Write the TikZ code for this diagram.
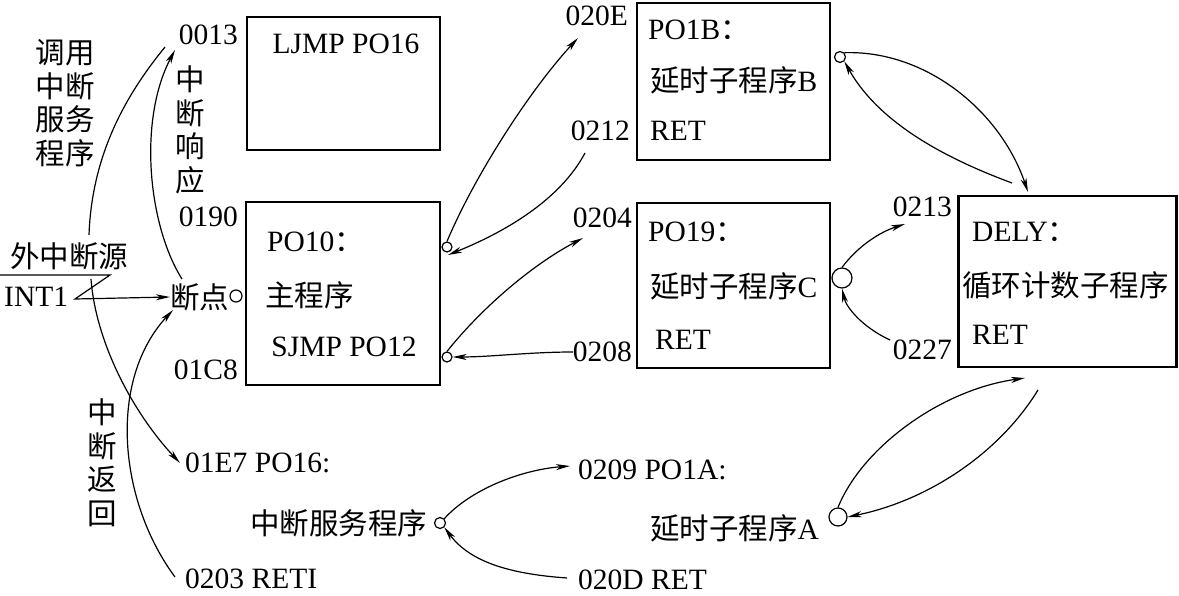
\documentclass[tikz,border=0pt]{standalone}
\usepackage{fontspec}
\setmainfont{Liberation Serif}
\newfontfamily\cjk[Scale=1.0]{Noto Sans CJK SC}
\usetikzlibrary{arrows.meta}
\begin{document}
\begin{tikzpicture}[x=1pt,y=-1pt,
  box/.style={draw,line width=2.8pt,rectangle,inner sep=0pt},
  lbl/.style={inner sep=0pt,font=\fontsize{29.5}{33.5}\selectfont},
  conn/.style={line width=1.2pt,-{Stealth[length=14pt,width=6pt,inset=4pt]}},
  plain/.style={line width=1.2pt},
  dot/.style={draw,circle,line width=1.2pt,inner sep=0pt,fill=white}]
\useasboundingbox (0,0) rectangle (1179,596);

% boxes
\node[box,minimum width=193pt,minimum height=133pt] (b1) at (343.5,83.5) {};
\node[box,minimum width=194pt,minimum height=183pt] (b2) at (343,293.5) {};
\node[box,minimum width=193pt,minimum height=157pt] (b3) at (733.5,81.5) {};
\node[box,minimum width=193pt,minimum height=165pt] (b4) at (733.5,285.5) {};
\node[box,minimum width=218pt,minimum height=171pt] (b5) at (1067.5,281.5) {};

% labels left
\node[lbl,anchor=east] (l0013) at (238,35) {0013};
\node[lbl] (ljmp) at (346,44) {LJMP PO16};
\node[lbl,align=center] (call) at (65,103) {{\cjk 调用}\\{\cjk 中断}\\{\cjk 服务}\\{\cjk 程序}};
\node[lbl,align=center] (resp) at (190,130) {{\cjk 中}\\{\cjk 断}\\{\cjk 响}\\{\cjk 应}};
\node[lbl,anchor=east] (l0190) at (238,217) {0190};
\node[lbl,anchor=west] (po10) at (267,242) {PO10{\cjk ：}};
\node[lbl,anchor=west] (main) at (265,295) {\cjk 主程序};
\node[lbl] (sjmp) at (344,347) {SJMP PO12};
\node[lbl,anchor=east] (l01C8) at (238,370) {01C8};
\node[lbl,anchor=west] (src) at (10,256) {\cjk 外中断源};
\node[lbl,anchor=west] (int1) at (4,297) {INT1};
\node[lbl,anchor=west] (bp) at (170,297) {\cjk 断点};
\node[lbl,align=center] (ret) at (102,463) {{\cjk 中}\\{\cjk 断}\\{\cjk 返}\\{\cjk 回}};
\node[lbl,anchor=west] (l01E7) at (185,463) {01E7 PO16:};
\node[lbl,anchor=west] (isr) at (250,523) {\cjk 中断服务程序};
\node[lbl,anchor=west] (l0203) at (185,579) {0203 RETI};

% labels middle
\node[lbl,anchor=east] (l020E) at (628,16) {020E};
\node[lbl,anchor=west] (po1b) at (648,30) {PO1B{\cjk ：}};
\node[lbl,anchor=west] (dlyb) at (650,80) {{\cjk 延时子程序}B};
\node[lbl,anchor=east] (l0212) at (630,131) {0212};
\node[lbl,anchor=west] (retb) at (650,131) {RET};
\node[lbl,anchor=east] (l0204) at (632,218) {0204};
\node[lbl,anchor=west] (po19) at (648,232) {PO19{\cjk ：}};
\node[lbl,anchor=west] (dlyc) at (650,286) {{\cjk 延时子程序}C};
\node[lbl,anchor=west] (retc) at (655,340) {RET};
\node[lbl,anchor=east] (l0208) at (632,352) {0208};
\node[lbl,anchor=west] (l0209) at (578,470) {0209 PO1A:};
\node[lbl,anchor=west] (dlya) at (650,528) {{\cjk 延时子程序}A};
\node[lbl,anchor=west] (l020D) at (578,580) {020D RET};

% labels right
\node[lbl,anchor=east] (l0213) at (952,207) {0213};
\node[lbl,anchor=west] (dely) at (972,232) {DELY{\cjk ：}};
\node[lbl,anchor=west] (loop) at (962,285) {\cjk 循环计数子程序};
\node[lbl,anchor=west] (retd) at (972,335) {RET};
\node[lbl,anchor=east] (l0227) at (952,350) {0227};

% dots
\node[dot,minimum size=12pt] (d0) at (236,296) {};
\node[dot,minimum size=10pt] (d1) at (447,247) {};
\node[dot,minimum size=10pt] (d2) at (447,357) {};
\node[dot,minimum size=11pt] (d3) at (840,57) {};
\node[dot,minimum size=20pt] (d4) at (842,278) {};
\node[dot,minimum size=11pt] (d5) at (440,523) {};
\node[dot,minimum size=18pt] (d6) at (838,517) {};

% free-end coordinates
\coordinate (cA1) at (89,235);
\coordinate (cA2) at (165,47);
\coordinate (cB1) at (91,279);
\coordinate (cB2) at (180,463);
\coordinate (cC1) at (182,279);
\coordinate (cC2) at (175,50);
\coordinate (cD1) at (175,577);
\coordinate (cD2) at (173,310);
\coordinate (cE2) at (578,38);
\coordinate (cF1) at (585,153);
\coordinate (cF2) at (448,255);
\coordinate (cG2) at (583,238);
\coordinate (cH1) at (573,352);
\coordinate (cI2) at (1028,192);
\coordinate (cJ1) at (1012,183);
\coordinate (cK2) at (905,224);
\coordinate (cL1) at (890,340);
\coordinate (cM2) at (1025,378);
\coordinate (cN1) at (1038,390);
\coordinate (cO2) at (570,466);
\coordinate (cP1) at (567,578);
\coordinate (z1) at (0,275);
\coordinate (z2) at (110,275);
\coordinate (z3) at (75,299);

% connectors
\draw[plain] (cA1) .. controls (92,150) and (130,90) .. (cA2);
\draw[conn] (cB1) .. controls (96,345) and (135,415) .. (cB2);
\draw[conn] (cC1) .. controls (148,225) and (138,120) .. (cC2);
\draw[conn] (cD1) .. controls (118,500) and (108,380) .. (cD2);
\draw[conn] (d1.north) .. controls (475,175) and (530,90) .. (cE2);
\draw[conn] (cF1) .. controls (560,200) and (505,232) .. (cF2);
\draw[conn] (d2.north) .. controls (480,310) and (530,266) .. (cG2);
\draw[conn] (cH1) .. controls (530,352) and (490,357) .. (d2.east);
\draw[conn] (d3.north east) .. controls (925,50) and (1000,110) .. (cI2);
\draw[conn] (cJ1) .. controls (950,160) and (880,125) .. (d3.south east);
\draw[conn] (d4.north) .. controls (858,246) and (880,232) .. (cK2);
\draw[conn] (cL1) .. controls (862,327) and (846,307) .. (d4.south);
\draw[conn] (d6.north) .. controls (862,448) and (940,390) .. (cM2);
\draw[conn] (cN1) .. controls (1000,452) and (930,500) .. (d6.east);
\draw[conn] (d5.north east) .. controls (470,490) and (520,470) .. (cO2);
\draw[conn] (cP1) .. controls (510,574) and (470,562) .. (d5.south east);
\draw[conn] (z1) -- (z2) -- (z3) -- (bp.west);
\end{tikzpicture}
\end{document}
